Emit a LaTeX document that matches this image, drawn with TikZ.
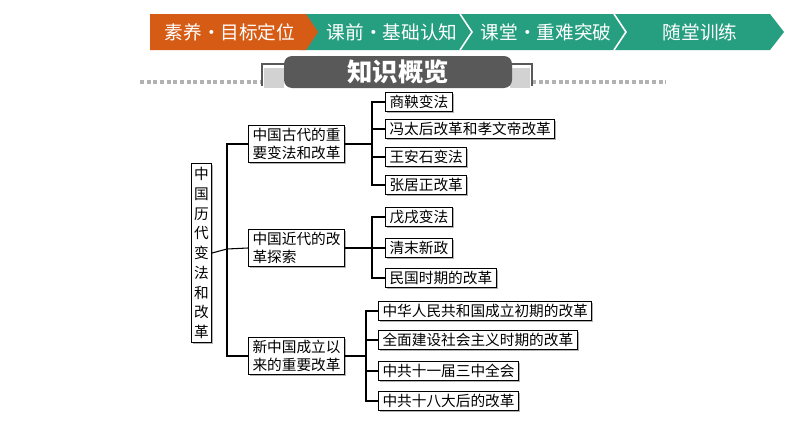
\documentclass[tikz,border=0pt]{standalone}
\usepackage{fontspec}
\setmainfont{Noto Sans CJK SC}
\usetikzlibrary{shadows}
\definecolor{tealbar}{RGB}{38,158,128}
\definecolor{orangebar}{RGB}{214,92,22}
\tikzset{
  box/.style={draw,thick,fill=white,inner xsep=3pt,inner ysep=2.2pt,anchor=west,
    font=\fontsize{11}{13}\selectfont,
    drop shadow={shadow xshift=1pt,shadow yshift=-1pt,fill=gray!60,opacity=1}},
  midbox/.style={box,align=left,font=\fontsize{11}{13.5}\selectfont},
  bar/.style={white,font=\fontsize{14}{16}\selectfont}
}
\begin{document}
\begin{tikzpicture}[x=0.75pt,y=-0.75pt]
      \useasboundingbox (0,0) rectangle (794,446);
      % banner
      \fill[tealbar] (300,14) -- (770,14) -- (784,32) -- (770,50) -- (300,50) -- cycle;
      \fill[orangebar] (150,14) -- (306,14) -- (318,32) -- (306,50) -- (150,50) -- cycle;
      \draw[white,line width=1.2pt] (460,14) -- (472,32) -- (460,50);
      \draw[white,line width=1.2pt] (614,14) -- (626,32) -- (614,50);
      \node[bar] (s1) at (230,32) {素养•目标定位};
      \node[bar] (s2) at (392,32) {课前•基础认知};
      \node[bar] (s3) at (546,32) {课堂•重难突破};
      \node[bar] (s4) at (700,32) {随堂训练};
      % title
      \draw[gray!60,line width=3pt,dash pattern=on 3pt off 2pt] (140,82) -- (262,82);
      \draw[gray!60,line width=3pt,dash pattern=on 3pt off 2pt] (532,82) -- (666,82);
      \fill[gray!35] (264,68) rectangle (284,88);
      \fill[gray!35] (510,68) rectangle (530,88);
      \draw[gray!70!black,thick] (262,86) -- (262,64) -- (284,64);
      \draw[gray!70!black,thick] (510,64) -- (532,64) -- (532,86);
      \fill[gray!70!black,rounded corners=6pt] (284,88) -- (284,56) -- (512,56) -- (512,88) -- cycle;
      \node[white,font=\fontsize{19}{20}\selectfont\bfseries] (title) at (398,72) {知识概览};

      % tree
      \node[box,align=center,inner xsep=2pt,inner ysep=3pt,font=\fontsize{11}{14.8}\selectfont]
        (root) at (191,253) {中\\国\\历\\代\\变\\法\\和\\改\\革};
      \node[midbox] (l1a) at (248,144) {中国古代的重\\要变法和改革};
      \node[midbox] (l1b) at (248,248) {中国近代的改\\革探索};
      \node[midbox] (l1c) at (248,356) {新中国成立以\\来的重要改革};

      \node[box] (a1) at (385,102) {商鞅变法};
      \node[box] (a2) at (385,129) {冯太后改革和孝文帝改革};
      \node[box] (a3) at (385,157) {王安石变法};
      \node[box] (a4) at (385,185) {张居正改革};
      \node[box] (b1) at (385,217) {戊戌变法};
      \node[box] (b2) at (385,248) {清末新政};
      \node[box] (b3) at (385,278) {民国时期的改革};
      \node[box] (c1) at (378,311) {中华人民共和国成立初期的改革};
      \node[box] (c2) at (378,340) {全面建设社会主义时期的改革};
      \node[box] (c3) at (378,371) {中共十一届三中全会};
      \node[box] (c4) at (378,401) {中共十八大后的改革};

      \coordinate (t) at (227,249);
      \coordinate (ta) at (372,144);
      \coordinate (tb) at (372,248);
      \coordinate (tc) at (366,356);
      \draw[thick] (root.east) -- (t);
      \draw[thick] (l1a.west) -| (t) |- (l1c.west);
      \draw[thick] (t) -- (l1b.west);
      \draw[thick] (l1a.east) -- (ta);
      \draw[thick] (l1b.east) -- (tb);
      \draw[thick] (l1c.east) -- (tc);
      \draw[thick] (a1.west) -| (ta) |- (a4.west);
      \draw[thick] (ta) |- (a2.west);
      \draw[thick] (ta) |- (a3.west);
      \draw[thick] (b1.west) -| (tb) |- (b3.west);
      \draw[thick] (tb) -- (b2.west);
      \draw[thick] (c1.west) -| (tc) |- (c4.west);
      \draw[thick] (tc) |- (c2.west);
      \draw[thick] (tc) |- (c3.west);
\end{tikzpicture}
\end{document}
